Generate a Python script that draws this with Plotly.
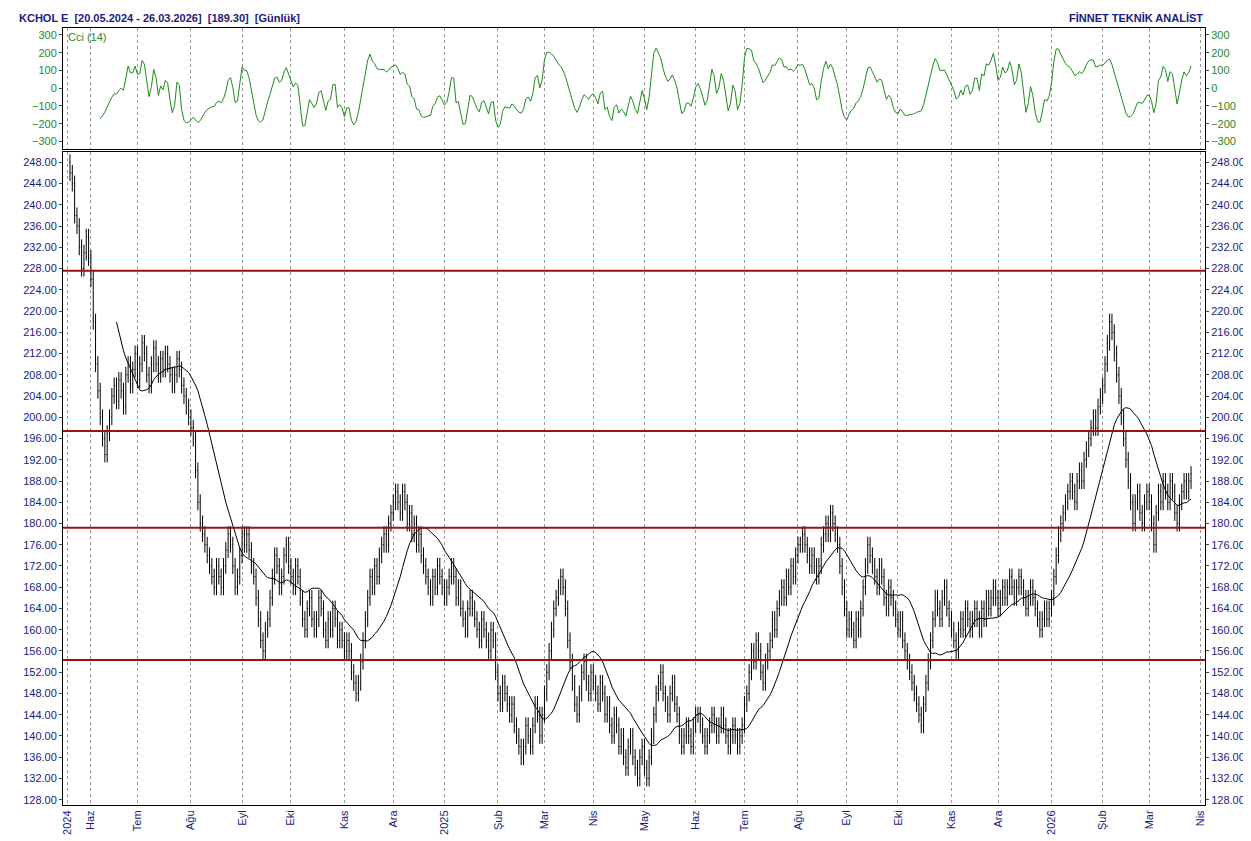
import numpy as np
import pandas as pd
import plotly.graph_objects as go

# Günlük kapanış tahminleri
closes = [
    246, 244, 238, 236, 232, 228, 231, 234, 230, 226,
    218, 210, 205, 200, 196, 193, 197, 200, 204, 206, 203, 207, 205, 202, 208, 210, 206, 209, 212, 207,
    210, 214, 212, 208, 206, 210, 213, 210, 208, 211, 209, 212, 210, 208, 206, 208, 211, 209, 206, 204, 202, 200, 198,
    196, 190, 184, 180, 178, 176, 174, 172, 170, 168, 172, 170, 168, 172, 175, 178, 176, 172, 168, 170, 174, 178,
    176, 178, 175, 172, 170, 166, 162, 158, 156, 160, 162, 166, 170, 174, 172, 168, 170, 174, 176, 172, 170,
    168, 172, 170, 166, 162, 160, 164, 166, 162, 160, 162, 166, 164, 160, 158, 162, 160, 164, 162, 158, 160, 158, 156,
    158, 156, 152, 150, 148, 150, 154, 158, 162, 166, 170, 168, 172, 170, 174, 176, 178, 176, 180, 182, 184,
    186, 184, 182, 186, 184, 180, 182, 178, 180, 176, 178, 174, 172, 170, 168, 166, 170, 168, 172, 170, 168, 166,
    168, 170, 172, 170, 166, 168, 164, 162, 160, 164, 166, 164, 162, 160, 158, 162, 160, 158, 156, 160, 158, 152, 148,
    146, 150, 148, 146, 144, 146, 142, 140, 138, 136, 138, 142, 140, 138, 142, 146, 144, 140, 144, 148,
    152, 156, 160, 164, 166, 168, 170, 168, 164, 158, 154, 150, 146, 144, 148, 152, 154, 150, 148, 152, 150,
    148, 146, 150, 148, 144, 146, 142, 140, 144, 142, 138, 140, 136, 134, 138, 140, 136, 134, 132, 136, 138, 134,
    132, 136, 140, 144, 148, 150, 152, 148, 146, 144, 148, 150, 146, 144, 140, 138, 140, 142, 140, 138, 142, 144,
    144, 142, 140, 138, 140, 142, 144, 142, 140, 142, 144, 142, 140, 138, 140, 142, 140, 138, 140, 142, 146,
    148, 152, 156, 154, 158, 156, 152, 150, 154, 156, 158, 162, 160, 164, 166, 168, 166, 170, 168, 172, 170, 174, 176,
    176, 178, 176, 174, 172, 174, 172, 170, 172, 176, 178, 180, 178, 182, 180, 178, 176, 172, 168, 164, 160,
    162, 160, 158, 162, 160, 164, 168, 172, 176, 174, 172, 170, 168, 172, 170, 166, 164, 168, 166, 164, 162, 160,
    162, 158, 156, 154, 152, 150, 148, 146, 144, 142, 146, 150, 154, 158, 162, 166, 164, 162, 166, 168, 164, 162, 160,
    158, 156, 160, 162, 160, 164, 162, 160, 162, 164, 162, 160, 164, 162, 166, 164, 166, 168, 166, 164,
    166, 168, 166, 168, 170, 168, 166, 168, 170, 168, 166, 164, 166, 168, 166, 164, 162, 160, 162, 164, 162, 164, 166,
    170, 174, 178, 180, 182, 184, 186, 188, 186, 184, 188, 190, 188, 192, 194, 196, 198, 200, 198, 202, 204,
    206, 210, 214, 218, 216, 212, 208, 204, 200, 196, 192, 188, 184, 180, 184, 186, 182, 180, 184, 186,
    184, 180, 176, 182, 186, 184, 188, 186, 184, 188, 186, 182, 180, 184, 186, 188, 186, 188, 189.3,
]
support_levels = [227.6, 197.4, 179.2, 154.3]
month_ticks = ["2024-05-20", "2024-06-03", "2024-07-01", "2024-08-01", "2024-09-02", "2024-10-01",
               "2024-11-01", "2024-12-02", "2025-01-01", "2025-02-03", "2025-03-03", "2025-04-01",
               "2025-05-01", "2025-06-02", "2025-07-01", "2025-08-01", "2025-09-01", "2025-10-01",
               "2025-11-03", "2025-12-01", "2026-01-01", "2026-02-02", "2026-03-02", "2026-04-01"]
month_text = ["2024", "Haz", "Tem", "Ağu", "Eyl", "Eki", "Kas", "Ara", "2025", "Şub", "Mar", "Nis",
              "May", "Haz", "Tem", "Ağu", "Eyl", "Eki", "Kas", "Ara", "2026", "Şub", "Mar", "Nis"]

close = np.array(closes, dtype=float)
dates = pd.bdate_range(end="2026-03-26", periods=len(close))
prev = np.concatenate([[close[0] + 2], close[:-1]])
high = np.maximum(prev, close) + 1.5
low = np.minimum(prev, close) - 1.5

ma = pd.Series(close).rolling(21).mean()
tp = pd.Series((high + low + close) / 3)
sma = tp.rolling(14).mean()
mad = tp.rolling(14).apply(lambda v: np.mean(np.abs(v - v.mean())), raw=True)
cci = (tp - sma) / (0.015 * mad)

BLUE = "#1a1a80"
GREEN = "#1f8a1f"
fig = go.Figure()
fig.add_trace(go.Ohlc(x=dates, open=prev, high=high, low=low, close=close,
                      increasing_line_color="black", decreasing_line_color="black",
                      line_width=1, tickwidth=0.3, xaxis="x", yaxis="y"))
fig.add_trace(go.Scatter(x=dates, y=ma, mode="lines", line=dict(color="black", width=1),
                         xaxis="x", yaxis="y"))
fig.add_trace(go.Scatter(x=dates, y=cci, mode="lines", line=dict(color=GREEN, width=1),
                         xaxis="x2", yaxis="y3"))
fig.add_trace(go.Scatter(x=dates, y=cci, mode="lines", line=dict(width=0), opacity=0,
                         xaxis="x2", yaxis="y4"))
fig.add_trace(go.Scatter(x=dates, y=close, mode="lines", line=dict(width=0), opacity=0,
                         xaxis="x", yaxis="y2"))

for lvl in support_levels:
    fig.add_shape(type="line", xref="x domain", yref="y", x0=0, x1=1, y0=lvl, y1=lvl,
                  line=dict(color="#a01010", width=2))

xr = [pd.Timestamp("2024-05-16"), pd.Timestamp("2026-04-03")]
xcommon = dict(type="date", range=xr, rangebreaks=[dict(bounds=["sat", "mon"])],
               tickvals=pd.to_datetime(month_ticks), showgrid=True,
               gridcolor="#999", griddash="dot", gridwidth=1, showline=True,
               linecolor="black", mirror=True, zeroline=False)
ycommon = dict(range=[127, 250], tickvals=list(range(128, 249, 4)), tickformat=".2f",
               tickfont=dict(color=BLUE, size=11, family="Arial"), showgrid=False,
               showline=True, linecolor="black", zeroline=False, ticks="outside", ticklen=3)
ccommon = dict(range=[-340, 340], tickvals=list(range(-300, 301, 100)),
               tickfont=dict(color=GREEN, size=11, family="Arial"), showgrid=False,
               showline=True, linecolor="black", zeroline=False, ticks="outside", ticklen=3)

fig.update_layout(
    width=1251, height=841, showlegend=False,
    paper_bgcolor="white", plot_bgcolor="white",
    margin=dict(l=55, r=54, t=8, b=44),
    xaxis=dict(**xcommon, domain=[0, 1], anchor="y", ticktext=month_text, tickangle=-90,
               tickfont=dict(color=BLUE, size=11, family="Arial"), rangeslider=dict(visible=False)),
    xaxis2=dict(**xcommon, domain=[0, 1], anchor="y3", showticklabels=False, matches="x"),
    yaxis=dict(**ycommon, domain=[0, 0.828], side="left"),
    yaxis2=dict(**ycommon, overlaying="y", side="right", anchor="x"),
    yaxis3=dict(**ccommon, domain=[0.832, 0.985], side="left", anchor="x2"),
    yaxis4=dict(**ccommon, overlaying="y3", side="right", anchor="x2"),
    annotations=[
        dict(text="<b>KCHOL E  [20.05.2024 - 26.03.2026]  [189.30]  [Günlük]</b>", xref="paper",
             yref="paper", x=-0.04, y=1.008, xanchor="left", yanchor="top", showarrow=False,
             font=dict(size=11, color=BLUE, family="Arial")),
        dict(text="<b>FİNNET TEKNİK ANALİST</b>", xref="paper", yref="paper", x=1.0, y=1.008,
             xanchor="right", yanchor="top", showarrow=False,
             font=dict(size=11, color=BLUE, family="Arial")),
        dict(text="Cci (14)", xref="paper", yref="paper", x=0.003, y=0.983, xanchor="left",
             yanchor="top", showarrow=False, font=dict(size=11, color=GREEN, family="Arial")),
    ],
)

fig.write_html("out.html")
